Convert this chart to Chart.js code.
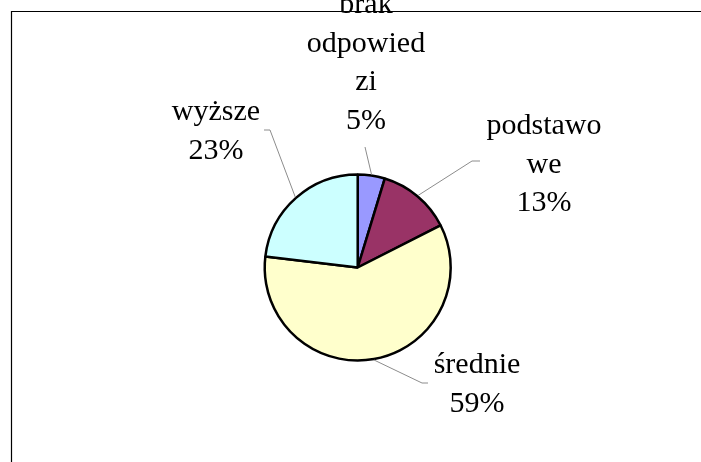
<!DOCTYPE html>
<html>
<head>
<meta charset="utf-8">
<script src="https://cdn.jsdelivr.net/npm/chart.js@4"></script>
<style>
  html, body { margin: 0; padding: 0; background: #fff; overflow: hidden; }
  #pie { display: block; }
</style>
</head>
<body>
<canvas id="pie" width="701" height="462"></canvas>
<script>
// Wykształcenie - udział odpowiedzi
const categories = ['brak odpowiedzi', 'podstawowe', 'średnie', 'wyższe'];
const values = [4.7, 12.8, 59.4, 23.1];
const sliceColors = ['#9999FF', '#993366', '#FFFFCC', '#CCFFFF'];

// label layout, px relative to pie centre: text centre x, first baseline y, leader elbow, leader end
const labelLayout = [
    { x: 8.3, y: -254.2, elbow: null, end: [7.3, -120.5] },
    { x: 186.3, y: -133.2, elbow: [114.3, -106.5], end: [122.3, -106.5] },
    { x: 119.3, y: 105.5, elbow: [64.3, 115.5], end: [70.3, 115.5] },
    { x: -141.7, y: -147.5, elbow: [-87.7, -137.5], end: [-93.7, -137.5] }
];

const FONT = '30px "Liberation Serif", "Times New Roman", serif';
const LINE_H = 38.5;
const WRAP_W = 125;

// Excel-like wrapping: break at spaces, split words that don't fit
function wrapText(ctx, text) {
    const lines = [];
    text.split(' ').forEach(function (word) {
        let cur = '';
        for (const ch of word) {
            if (cur && ctx.measureText(cur + ch).width > WRAP_W) {
                lines.push(cur);
                cur = ch;
            } else {
                cur += ch;
            }
        }
        if (cur) lines.push(cur);
    });
    return lines;
}

// chart frame: only top and left edges are inside the picture
const chartFrame = {
    id: 'chartFrame',
    beforeDraw: function (chart) {
        const ctx = chart.ctx;
        ctx.save();
        ctx.strokeStyle = '#000';
        ctx.lineWidth = 1.2;
        ctx.beginPath();
        ctx.moveTo(chart.width + 2, 11.5);
        ctx.lineTo(11.5, 11.5);
        ctx.lineTo(11.5, chart.height + 2);
        ctx.stroke();
        ctx.restore();
    }
};

const pieLabels = {
    id: 'pieLabels',
    afterDatasetsDraw: function (chart) {
        const ctx = chart.ctx;
        const meta = chart.getDatasetMeta(0);
        const total = values.reduce((a, b) => a + b, 0);
        ctx.save();
        ctx.font = FONT;
        ctx.fillStyle = '#000';
        ctx.textAlign = 'center';
        ctx.textBaseline = 'alphabetic';
        meta.data.forEach(function (arc, i) {
            const p = arc.getProps(['x', 'y', 'startAngle', 'endAngle', 'outerRadius'], true);
            const mid = (p.startAngle + p.endAngle) / 2;
            const lay = labelLayout[i];
            const r = p.outerRadius + 1;

            // leader line
            ctx.beginPath();
            ctx.strokeStyle = '#8c8c8c';
            ctx.lineWidth = 1;
            ctx.moveTo(p.x + Math.cos(mid) * r, p.y + Math.sin(mid) * r);
            if (lay.elbow) ctx.lineTo(p.x + lay.elbow[0], p.y + lay.elbow[1]);
            ctx.lineTo(p.x + lay.end[0], p.y + lay.end[1]);
            ctx.stroke();

            const lines = wrapText(ctx, categories[i]);
            lines.push(Math.round(values[i] / total * 100) + '%');
            lines.forEach(function (line, k) {
                ctx.fillText(line, p.x + lay.x, p.y + lay.y + k * LINE_H);
            });
        });
        ctx.restore();
    }
};

new Chart(document.getElementById('pie'), {
    type: 'pie',
    data: {
        labels: categories,
        datasets: [{
            data: values,
            backgroundColor: sliceColors,
            borderColor: '#000',
            borderWidth: 2.5
        }]
    },
    options: {
        responsive: false,
        animation: false,
        devicePixelRatio: 1,
        layout: { padding: { left: 263.45, right: 249.05, top: 173.25, bottom: 100.25 } },
        plugins: {
            legend: { display: false },
            tooltip: { enabled: false }
        }
    },
    plugins: [chartFrame, pieLabels]
});
</script>
</body>
</html>
